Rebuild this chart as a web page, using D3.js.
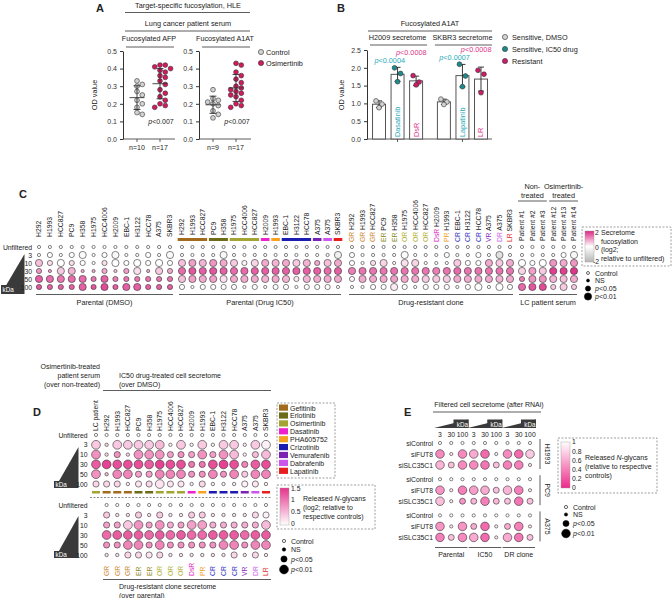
<!DOCTYPE html>
<html><head><meta charset="utf-8">
<script src="https://cdn.jsdelivr.net/npm/d3@7"></script>
<style>
body{margin:0;background:#fff}
svg{display:block;font-family:"Liberation Sans",Arial,Helvetica,sans-serif}
</style></head><body>
<div id="chart"></div>
<script>
// ---------- data ----------
// panel A
var aGroups = ["Control", "Osimertinib"];
var afpControl = [0.33,0.31,0.30,0.27,0.25,0.22,0.20,0.18,0.15,0.14];
var afpOsim = [0.42,0.42,0.41,0.40,0.39,0.38,0.36,0.35,0.33,0.31,0.28,0.26,0.24,0.22,0.20,0.19,0.18];
var a1atControl = [0.28,0.23,0.22,0.21,0.20,0.19,0.16,0.14,0.12];
var a1atOsim = [0.43,0.42,0.38,0.36,0.34,0.32,0.30,0.29,0.28,0.27,0.26,0.25,0.24,0.22,0.20,0.19,0.18];
var aTicks = [0,0.1,0.2,0.3,0.4,0.5];

// panel B
var bGroups = ["H2009 secretome", "SKBR3 secretome"];
var bConds = ["Sensitive, DMSO", "Sensitive, IC50 drug", "Resistant"];
var bDrugs = [["", "Dasatinib", "DsR"], ["", "Lapatinib", "LR"]];
var bH2009 = [[1.07,0.98,0.88],[2.0,1.84,1.61],[1.78,1.6,1.52]];
var bSKBR3 = [[1.12,1.04,0.97],[2.1,1.77,1.47],[1.93,1.82,1.3]];
var bPvals = [["0.0004","0.0008"],["0.0007","0.0008"]];
var bTicks = [0,0.5,1,1.5,2,2.5];

// shared
var kdaRows = ["3","10","30","50","100"];
var drugNames = ["Gefitinib","Erlotinib","Osimertinib","Dasatinib","PHA605752","Crizotinib","Vemurafenib","Dabrafenib","Lapatinib"];
var drugCodes = ["GR","ER","OR","DsR","PR","CR","VR","DR","LR"];
var drugColors = ["#a26a1c","#6b6b18","#a4a432","#ee22cc","#f5a31e","#1c1cb0","#7a22b4","#cc55ee","#e81e1e"];
var codeColors = ["#c8862a","#8a8a22","#b0b030","#e020c0","#f0a020","#2a2ac0","#8a2ac0","#c860e8","#e02828"];

// panel C
var cParLines = ["H292","H1993","HCC827","PC9","H358","H1975","HCC4006","H2009","EBC-1","H3122","HCC78","A375","SKBR3"];
var cDrugLines = ["H292","H1993","HCC827","PC9","H358","H1975","HCC4006","HCC827","H2009","H1993","EBC-1","H3122","HCC78","A375","A375","SKBR3"];
var cDrugOf = ["Gefitinib","Gefitinib","Gefitinib","Erlotinib","Erlotinib","Osimertinib","Osimertinib","Osimertinib","Dasatinib","PHA605752","Crizotinib","Crizotinib","Crizotinib","Vemurafenib","Dabrafenib","Lapatinib"];
var cPatients = ["Patient #1","Patient #2","Patient #3","Patient #12","Patient #13","Patient #14"];
// significance: 0 control, 1 NS, 2 p<0.05, 3 p<0.01
var cParVal = [
 [0,0,0,0,-0.1,0,0,-0.1,0,0,0,0,-0.1],
 [0.6,0.3,0,0.3,0,0,0.3,0,0,0,0,0,0],
 [1.0,0.9,0.5,0.7,0.8,0.8,0.8,0.6,0.9,0.3,0.8,0.5,0.8],
 [1.5,1.4,1.3,1.4,1.4,1.3,1.5,1.2,1.3,1.3,1.3,1.3,1.3],
 [1.6,1.5,1.5,1.5,1.5,1.6,1.7,1.5,1.5,1.5,1.5,1.5,1.5]];
var cParSig = [
 [1,2,1,2,3,1,2,3,1,1,2,1,3],
 [3,2,3,2,2,1,2,3,2,3,2,3,2],
 [2,1,3,3,1,1,2,1,2,3,1,3,2],
 [3,3,3,3,3,2,3,2,2,2,2,2,2],
 [2,2,2,2,3,2,3,2,3,3,2,2,2]];
var cIC50Val = [
 [0,0,0,0,-0.2,0,0,0,0,0,0,0,0,0,0,-0.4],
 [0.6,0.9,0.7,1.0,0.8,0.5,0.1,0.4,0.8,0.7,0.8,0.5,0.7,0.8,0.6,0.8],
 [1.4,1.6,1.5,1.6,1.5,1.4,1.4,1.5,1.5,1.5,1.5,1.5,1.5,1.5,1.4,1.5],
 [0.6,0.9,0.8,0.9,0.3,0.8,0.8,0.8,0.7,0.8,0.7,0.2,0.7,0.8,0.8,0.8],
 [0,0,0,0,0,0,0,0,0,0,0,0,0,0,0,0]];
var cIC50Sig = [
 [1,1,1,1,3,1,1,1,1,1,1,1,1,1,1,3],
 [3,3,3,3,3,3,2,3,3,3,3,3,3,2,3,3],
 [3,3,3,3,3,3,3,3,3,3,3,3,3,3,3,3],
 [3,3,3,3,3,3,3,3,3,3,3,2,3,3,3,3],
 [2,1,2,2,2,2,1,2,1,2,2,1,2,2,2,1]];
var cResVal = [
 [0,0,0,0,0,-0.1,0,0,0,0,0,0,0,0,-0.8,0],
 [0,0,0.3,0.4,0,0.3,0.4,0,0,0,0.5,0,0,0.8,0.5,0.8],
 [1.2,1.3,1.3,1.3,1.3,1.3,1.3,1.3,1.2,1.3,1.4,1.3,1.3,1.3,1.3,1.3],
 [0.1,0.8,0.8,0.8,0.9,0.8,0.8,0.5,0.5,0.5,0.8,0.8,0.8,0.8,0.7,0.8],
 [0,0,0,0,0.2,0,0,0,0,0,0,0,0,0,0,0]];
var cResSig = [
 [2,1,1,1,1,3,1,1,1,2,1,1,2,1,3,1],
 [2,1,2,3,1,3,3,1,1,1,3,2,2,3,3,3],
 [3,3,3,3,3,3,3,3,3,3,3,3,3,3,3,3],
 [2,3,3,3,3,3,3,3,3,3,3,3,3,3,3,3],
 [1,1,2,2,3,2,1,2,2,2,1,2,3,1,3,2]];
var cPatVal = [
 [0,0,0,0,0,-0.2],
 [0,0,0,1.0,0.8,1.0],
 [0.4,0.9,0.5,1.8,1.8,1.9],
 [1.2,1.0,1.0,0.7,0.6,0.8],
 [1.4,1.6,1.7,0.5,0.5,0.5]];
var cPatSig = [
 [1,1,1,1,2,3],
 [3,2,3,3,3,3],
 [3,3,3,3,3,3],
 [2,3,3,3,3,3],
 [3,3,3,2,3,2]];

// panel D
var dTopLines = ["LC patient"].concat(cDrugLines);
var dTopVal = [
 [0.4,0.3,0.4,0.4,0.4,0.4,0.5,0.1,0.4,0.1,0.4,0.1,0.4,0.4,0.1,0.4,0.1],
 [0.8,0.3,0.8,0.3,0.8,0.8,0.8,0.7,0.8,0.7,0.8,0.7,0.8,0.5,0.1,0.5,0.5],
 [1.2,1.4,1.3,1.3,1.3,1.2,1.4,1.3,1.3,1.0,1.0,1.3,1.4,1.3,0.9,1.2,1.3],
 [0.8,0.5,0.9,0.9,0.7,0.7,0.9,0.9,0.9,0.8,0.8,0.9,0.8,0.9,0.4,0.9,0.9],
 [0.3,0.3,0.3,0.1,0.2,0.3,0.2,0.2,0.2,0.1,0.3,0.1,0.1,0.1,0.1,0.2,0.1]];
var dTopSig = [
 [3,1,3,3,3,3,3,1,3,1,3,1,3,3,1,3,3],
 [3,1,2,1,3,3,3,2,2,2,3,2,3,3,1,2,3],
 [3,3,3,3,3,3,3,3,3,2,2,3,3,3,2,3,3],
 [3,1,3,3,2,2,3,3,3,2,2,3,2,3,2,3,3],
 [2,2,2,1,2,2,3,2,2,1,2,1,1,1,2,2,1]];
var dBotVal = [
 [0.4,0.2,0.2,0.4,0.2,0.4,0.2,0.2,0.4,0.4,0.2,0.2,0.2,0.2,0.3,0.1],
 [0.7,0.7,0.4,0.8,0.7,0.8,0.6,0.7,0.7,0.7,0.6,0.6,0.6,0.6,0.6,0.5],
 [1.1,1.2,1.2,1.2,1.1,1.2,1.1,1.2,1.1,1.1,1.2,1.2,1.2,1.1,1.2,1.2],
 [0.8,0.8,0.9,0.9,0.8,0.9,0.8,0.8,0.8,0.8,0.8,0.9,0.9,0.8,0.9,0.9],
 [0.2,0.2,0.3,0.3,0.2,0.3,0.2,0.2,0.2,0.2,0.2,0.2,0.3,0.2,0.3,0.2]];
var dBotSig = [
 [2,1,1,2,1,2,1,1,2,2,1,1,1,1,2,2],
 [2,2,3,3,2,3,2,2,3,3,2,2,2,2,2,3],
 [3,3,3,3,3,3,3,3,3,3,3,3,3,3,3,3],
 [2,2,3,3,2,3,2,2,2,2,2,3,3,2,3,3],
 [1,1,2,2,2,2,1,1,1,1,1,1,2,1,2,1]];

// panel E
var eLines = ["H1993","PC9","A375"];
var eSi = ["siControl","siFUT8","siSLC35C1"];
var eGroups = ["Parental","IC50","DR clone"];
var eKda = ["3","30","100"];
var eFUT8Val = [[0.45,0.9,0.45,0.6,0.3,0.9,0.45,0.3,0.75],[0.5,0.9,0.4,0.55,0.6,0.7,0.65,0.4,0.9],[0.5,0.9,0.5,0.6,0.3,0.9,0.6,0.4,0.9]];
var eFUT8Sig = [[3,1,3,3,3,1,3,3,3],[3,1,3,3,3,2,3,3,1],[3,1,3,2,3,1,2,3,1]];
var eSLCVal = [[0.65,0.7,0.45,0.45,0.35,0.7,0.4,0.4,0.9],[0.7,0.9,0.5,0.65,0.4,0.65,0.7,0.35,0.7],[0.4,0.7,0.45,0.6,0.3,0.9,0.6,0.35,0.7]];
var eSLCSig = [[3,2,3,3,3,2,3,3,1],[3,1,2,2,3,2,2,3,2],[3,2,3,3,3,1,3,3,2]];

// ---------- helpers ----------
var svg = d3.select("#chart").append("svg").attr("width", 672).attr("height", 598);
svg.append("rect").attr("width", 672).attr("height", 598).attr("fill", "#fff");

function label(x, y, s, o) {
  o = o || {};
  var t = svg.append("text").attr("x", x).attr("y", y)
    .attr("font-size", o.size || 7).attr("text-anchor", o.anchor || "start")
    .attr("fill", o.fill || "#222").text(s);
  if (o.bold) t.attr("font-weight", "bold");
  if (o.rot) t.attr("transform", "rotate(" + o.rot + "," + x + "," + y + ")");
  return t;
}
function hline(x1, x2, y, w) {
  svg.append("line").attr("x1", x1).attr("x2", x2).attr("y1", y).attr("y2", y)
    .attr("stroke", "#333").attr("stroke-width", w || 0.8);
}
function pLabel(x, y, p, o) {
  var t = label(x, y, "", o);
  t.append("tspan").attr("font-style", "italic").text("p");
  t.append("tspan").text("<" + p);
}
function styleAxis(ax) {
  ax.attr("font-family", null).attr("font-size", 7);
  ax.selectAll("path,line").attr("stroke", "#333");
  ax.selectAll("text").attr("fill", "#333");
}
function swarm(vals, y, r) {
  var placed = [];
  return vals.map(function(v) {
    var cy = y(v), off = 0;
    for (var k = 0; k < 30; k++) {
      var o = (k % 2 ? 1 : -1) * Math.ceil(k / 2) * r * 1.1;
      if (placed.every(function(p) { return Math.hypot(p[0] - o, p[1] - cy) >= 2 * r * 0.92; })) { off = o; break; }
    }
    placed.push([off, cy]);
    return off;
  });
}
function dotRow(xs, y, vals, sigs, color, radii) {
  svg.append("g").selectAll("circle").data(vals).join("circle")
    .attr("cx", function(d, i) { return xs(i); })
    .attr("cy", y)
    .attr("r", function(d, i) { return radii[sigs[i]]; })
    .attr("fill", function(d, i) { return sigs[i] === 0 ? "#fff" : color(d); })
    .attr("stroke", "#333").attr("stroke-width", 0.6);
}
function dotBlock(xs, ys, vals, sigs, color, radii) {
  var n = vals[0].length;
  dotRow(xs, ys("Unfiltered"), d3.range(n).map(function() { return 0; }), d3.range(n).map(function() { return 0; }), color, radii);
  kdaRows.forEach(function(r, j) { dotRow(xs, ys(r), vals[j], sigs[j], color, radii); });
}
function rowLabels(ys, x) {
  ys.domain().forEach(function(r) { label(x, ys(r) + 2.5, r, {anchor: "end", size: 6.8}); });
}
function colLabels(xs, names, y, codes) {
  names.forEach(function(n, i) {
    var t = svg.append("text").attr("transform", "translate(" + (xs(i) + 2.4) + "," + y + ") rotate(-90)")
      .attr("font-size", 6.8).attr("fill", "#222");
    if (codes) t.append("tspan").attr("fill", codeColors[drugCodes.indexOf(codes[i])]).text(codes[i] + " ");
    t.append("tspan").text(n);
  });
}
function wedge(pts, rx, ry, rw, rh, tx, ty, anchor) {
  svg.append("polygon").attr("points", pts).attr("fill", "#3a3a3a");
  svg.append("rect").attr("x", rx).attr("y", ry).attr("width", rw).attr("height", rh).attr("fill", "#3a3a3a");
  label(tx, ty, "kDa", {fill: "#fff", size: 6.3, anchor: anchor || "start"});
}
function sizeLegend(x, ys, radii, tx) {
  var names = ["Control", "NS", "0.05", "0.01"];
  names.forEach(function(n, i) {
    svg.append("circle").attr("cx", x).attr("cy", ys[i]).attr("r", radii[i])
      .attr("fill", i === 0 ? "#fff" : "#000").attr("stroke", "#000").attr("stroke-width", 0.6);
    if (i < 2) label(tx, ys[i] + 2.5, n, {size: 7});
    else pLabel(tx, ys[i] + 2.5, n, {size: 7});
  });
}
function gradient(id, stops) {
  var g = svg.append("defs").append("linearGradient").attr("id", id)
    .attr("x1", 0).attr("x2", 0).attr("y1", 0).attr("y2", 1);
  stops.forEach(function(s) { g.append("stop").attr("offset", s[0]).attr("stop-color", s[1]); });
}
function dashedBox(x, y, w, h) {
  svg.append("rect").attr("x", x).attr("y", y).attr("width", w).attr("height", h)
    .attr("fill", "none").attr("stroke", "#777").attr("stroke-width", 0.7).attr("stroke-dasharray", "2,1.5");
}

// ---------- panel A ----------
label(96, 12, "A", {bold: true, size: 11});
label(188, 8, "Target-specific fucosylation, HLE", {anchor: "middle", size: 7.3});
hline(125, 250, 12.5);
label(188, 26, "Lung cancer patient serum", {anchor: "middle", size: 7.3});
hline(125, 250, 31);
label(97, 95, "OD value", {anchor: "middle", rot: -90, size: 7.3});

var yA = d3.scaleLinear().domain([0, 0.5]).range([139, 51]);
var aColor = d3.scaleOrdinal().domain(aGroups).range(["#d2d2d2", "#d6195f"]);
[{name: "Fucosylated AFP", left: 123, sets: [afpControl, afpOsim]},
 {name: "Fucosylated A1AT", left: 199, sets: [a1atControl, a1atOsim]}].forEach(function(p) {
  var x = d3.scalePoint().domain(aGroups).range([p.left + 14, p.left + 37]);
  styleAxis(svg.append("g").attr("transform", "translate(" + p.left + ",0)")
    .call(d3.axisLeft(yA).tickValues(aTicks).tickFormat(d3.format(".1f")).tickSize(3).tickSizeOuter(0)));
  hline(p.left, p.left + 52, 139);
  aGroups.forEach(function(gname, gi) {
    var cx = x(gname), vals = p.sets[gi];
    svg.append("line").attr("x1", cx).attr("x2", cx).attr("y1", 139).attr("y2", 142).attr("stroke", "#333").attr("stroke-width", 0.8);
    label(cx, 150, "n=" + vals.length, {anchor: "middle", size: 7});
    var offs = swarm(vals, yA, 2.4);
    svg.append("g").selectAll("circle").data(vals).join("circle")
      .attr("cx", function(d, i) { return cx + offs[i]; })
      .attr("cy", function(d) { return yA(d); })
      .attr("r", 2.4).attr("fill", aColor(gname)).attr("stroke", "#333").attr("stroke-width", 0.6);
    var m = d3.mean(vals), sd = d3.deviation(vals);
    var eb = svg.append("g").attr("stroke", "#333").attr("stroke-width", 0.9);
    eb.append("line").attr("x1", cx - 7.5).attr("x2", cx + 7.5).attr("y1", yA(m)).attr("y2", yA(m));
    eb.append("line").attr("x1", cx).attr("x2", cx).attr("y1", yA(m - sd)).attr("y2", yA(m + sd));
    eb.append("line").attr("x1", cx - 3.5).attr("x2", cx + 3.5).attr("y1", yA(m - sd)).attr("y2", yA(m - sd));
    eb.append("line").attr("x1", cx - 3.5).attr("x2", cx + 3.5).attr("y1", yA(m + sd)).attr("y2", yA(m + sd));
  });
  label(p.left + 26, 41, p.name, {anchor: "middle", size: 7.2});
  hline(p.left + 3, p.left + 51, 47);
  pLabel(p.left + 38, 124, "0.007", {anchor: "middle", size: 7});
});
aGroups.forEach(function(gname, i) {
  svg.append("circle").attr("cx", 261).attr("cy", 52 + i * 11).attr("r", 2.6)
    .attr("fill", aColor(gname)).attr("stroke", "#333").attr("stroke-width", 0.6);
  label(266, 54.5 + i * 11, gname, {size: 7.3});
});

// ---------- panel B ----------
label(337, 12, "B", {bold: true, size: 11});
label(430, 26, "Fucosylated A1AT", {anchor: "middle", size: 7.3});
hline(368, 492, 31);
label(344, 95, "OD value", {anchor: "middle", rot: -90, size: 7.3});
var yB = d3.scaleLinear().domain([0, 2.5]).range([139, 50]);
var x0B = d3.scaleBand().domain(bGroups).range([369, 491]).paddingInner(0.12);
var x1B = d3.scaleBand().domain(bConds).range([0, x0B.bandwidth()]).paddingInner(0.3).paddingOuter(0.19);
var bColor = d3.scaleOrdinal().domain(bConds).range(["#d2d2d2", "#1b8c8c", "#d01a6a"]);
var bTextColor = ["#222", "#2aaab8", "#e0348c"];
styleAxis(svg.append("g").attr("transform", "translate(367,0)")
  .call(d3.axisLeft(yB).tickValues(bTicks).tickFormat(d3.format(".1f")).tickSize(3).tickSizeOuter(0)));
hline(367, 492, 139);
[bH2009, bSKBR3].forEach(function(set, gi) {
  var gx = x0B(bGroups[gi]);
  label(gx + x0B.bandwidth() / 2, 40, bGroups[gi], {anchor: "middle", size: 7.3});
  hline(gx + 1, gx + x0B.bandwidth() + 1, 45);
  svg.append("line").attr("x1", gx + x0B.bandwidth() / 2).attr("x2", gx + x0B.bandwidth() / 2)
    .attr("y1", 139).attr("y2", 142).attr("stroke", "#333").attr("stroke-width", 0.8);
  bConds.forEach(function(c, ci) {
    var vals = set[ci], m = d3.mean(vals), sd = d3.deviation(vals);
    var bx = gx + x1B(c), bw = x1B.bandwidth(), cx = bx + bw / 2;
    svg.append("rect").attr("x", bx).attr("y", yB(m)).attr("width", bw).attr("height", yB(0) - yB(m))
      .attr("fill", "#fff").attr("stroke", "#555").attr("stroke-width", 1);
    var eb = svg.append("g").attr("stroke", "#222").attr("stroke-width", 0.9);
    eb.append("line").attr("x1", cx).attr("x2", cx).attr("y1", yB(m - sd)).attr("y2", yB(m + sd));
    eb.append("line").attr("x1", cx - 3).attr("x2", cx + 3).attr("y1", yB(m - sd)).attr("y2", yB(m - sd));
    eb.append("line").attr("x1", cx - 3).attr("x2", cx + 3).attr("y1", yB(m + sd)).attr("y2", yB(m + sd));
    var offs = [-3, 3, 0];
    svg.append("g").selectAll("circle").data(vals).join("circle")
      .attr("cx", function(d, i) { return cx + offs[i]; })
      .attr("cy", function(d) { return yB(d); })
      .attr("r", 2.4).attr("fill", bColor(c)).attr("stroke", "#333").attr("stroke-width", 0.6);
    if (bDrugs[gi][ci]) label(cx + 2.5, 137, bDrugs[gi][ci], {rot: -90, fill: bTextColor[ci], size: 7.3});
  });
  var icEdge = gx + x1B(bConds[1]) + x1B.bandwidth();
  var rsEdge = gx + x1B(bConds[2]) + x1B.bandwidth();
  pLabel(icEdge + 1, gi ? 60 : 63, bPvals[gi][0], {anchor: "end", fill: "#2aaab8", size: 7.3});
  pLabel(rsEdge + 4, gi ? 52 : 55, bPvals[gi][1], {anchor: "end", fill: "#e0348c", size: 7.3});
});
bConds.forEach(function(c, i) {
  svg.append("circle").attr("cx", 505).attr("cy", 37 + i * 12).attr("r", 2.6)
    .attr("fill", bColor(c)).attr("stroke", "#333").attr("stroke-width", 0.6);
  label(512, 39.5 + i * 12, c, {size: 7.3});
});

// ---------- panel C ----------
label(19, 198, "C", {bold: true, size: 11});
var cY = d3.scalePoint().domain(["Unfiltered"].concat(kdaRows)).range([247, 287]);
var cX1 = d3.scalePoint().domain(d3.range(13)).range([39, 170]);
var cX2 = d3.scalePoint().domain(d3.range(16)).range([182, 338]);
var cX3 = d3.scalePoint().domain(d3.range(16)).range([352, 510]);
var cX4 = d3.scalePoint().domain(d3.range(6)).range([522, 574]);
var cColor = d3.scaleLinear().domain([-2, 0, 2]).range(["#b5b5b5", "#ffffff", "#dc2a85"]);
var cRadii = [1.6, 1.6, 2.6, 3.6];
wedge("1,294 24.5,294 24.5,254", 1, 285, 16, 9, 2.5, 292);
rowLabels(cY, 32);
dotBlock(cX1, cY, cParVal, cParSig, cColor, cRadii);
dotBlock(cX2, cY, cIC50Val, cIC50Sig, cColor, cRadii);
dotBlock(cX3, cY, cResVal, cResSig, cColor, cRadii);
dotBlock(cX4, cY, cPatVal, cPatSig, cColor, cRadii);
colLabels(cX1, cParLines, 237);
colLabels(cX2, cDrugLines, 235);
colLabels(cX3, cDrugLines, 242, cDrugOf.map(function(d) { return drugCodes[drugNames.indexOf(d)]; }));
colLabels(cX4, cPatients, 241);
// drug colour bars over IC50 columns
var runs = [];
cDrugOf.forEach(function(d, i) {
  if (runs.length && runs[runs.length - 1].drug === d) runs[runs.length - 1].end = i;
  else runs.push({drug: d, start: i, end: i});
});
svg.append("g").selectAll("rect").data(runs).join("rect")
  .attr("x", function(r) { return cX2(r.start) - 4.3; })
  .attr("width", function(r) { return cX2(r.end) - cX2(r.start) + 8.6; })
  .attr("y", 238).attr("height", 3)
  .attr("fill", function(r) { return drugColors[drugNames.indexOf(r.drug)]; });
[[cX1, "Parental (DMSO)"], [cX2, "Parental (Drug IC50)"], [cX3, "Drug-resistant clone"], [cX4, "LC patient serum"]].forEach(function(g) {
  var r = g[0].range();
  hline(r[0] - 3, r[1] + 3, 294.5);
  label((r[0] + r[1]) / 2, 305, g[1], {anchor: "middle", size: 7.3});
});
label(cX4(1), 189, "Non-", {anchor: "middle", size: 7.3});
label(cX4(1), 198, "treated", {anchor: "middle", size: 7.3});
hline(cX4(0) - 4, cX4(2) + 4, 201);
label(cX4(4), 189, "Osimertinib-", {anchor: "middle", size: 7.3});
label(cX4(4), 198, "treated", {anchor: "middle", size: 7.3});
hline(cX4(3) - 4, cX4(5) + 4, 201);
// colour legend C
gradient("gC", [[0, "#dc2a85"], [0.5, "#ffffff"], [1, "#b5b5b5"]]);
dashedBox(582, 227, 89, 39);
svg.append("rect").attr("x", 585).attr("y", 231).attr("width", 9).attr("height", 31)
  .attr("fill", "url(#gC)").attr("stroke", "#999").attr("stroke-width", 0.4);
label(595, 235, "2", {size: 6.8});
label(595, 250, "0", {size: 6.8});
label(593, 264, "-2", {size: 6.8});
["Secretome", "fucosylation", "(log2;", "relative to unfiltered)"].forEach(function(s, i) {
  label(601, 235 + i * 8.6, s, {size: 7});
});
sizeLegend(588, [273, 280.5, 288.5, 296.5], [1.5, 1.5, 2.6, 3.6], 595);

// ---------- panel D ----------
label(33, 416, "D", {bold: true, size: 11});
label(100, 369, "Osimertinib-treated", {anchor: "end", size: 7});
label(100, 378, "patient serum", {anchor: "end", size: 7});
label(100, 387, "(over non-treated)", {anchor: "end", size: 7});
label(119, 378, "IC50 drug-treated  cell secretome", {size: 7});
label(119, 387, "(over DMSO)", {size: 7});
hline(103, 271, 390.5);
var dX = d3.scalePoint().domain(d3.range(17)).range([96, 266]);
var dXb = d3.scalePoint().domain(d3.range(16)).range([dX(1), dX(16)]);
var dYt = d3.scalePoint().domain(["Unfiltered"].concat(kdaRows)).range([435, 484]);
var dYb = d3.scalePoint().domain(["Unfiltered"].concat(kdaRows)).range([505, 555]);
var dColor = d3.scaleLinear().domain([0, 1.5]).range(["#ffffff", "#e5338b"]);
var dRadii = [1.6, 1.7, 3.1, 4.4];
wedge("55,488 78.5,488 78.5,447", 54, 481, 19, 7, 55.5, 487);
wedge("55,558 78.5,558 78.5,516", 54, 551, 19, 7, 55.5, 557);
rowLabels(dYt, 87.5);
rowLabels(dYb, 87.5);
dotBlock(dX, dYt, dTopVal, dTopSig, dColor, dRadii);
dotBlock(dXb, dYb, dBotVal, dBotSig, dColor, dRadii);
colLabels(dX, dTopLines, 431);
var dDrugs = ["Osimertinib"].concat(cDrugOf);
svg.append("g").selectAll("rect").data(dDrugs).join("rect")
  .attr("x", function(d, i) { return dX(i) - 4; }).attr("width", 8)
  .attr("y", 491).attr("height", 2.5)
  .attr("fill", function(d) { return drugColors[drugNames.indexOf(d)]; });
svg.append("line").attr("x1", 90).attr("x2", 272).attr("y1", 497.5).attr("y2", 497.5)
  .attr("stroke", "#555").attr("stroke-width", 0.7).attr("stroke-dasharray", "2,1.5");
cDrugOf.forEach(function(d, i) {
  var code = drugCodes[drugNames.indexOf(d)];
  label(dXb(i) + 2.4, 576, code, {rot: -90, fill: codeColors[drugCodes.indexOf(code)], size: 6.8});
});
hline(103, 271, 579.5);
label(119, 589, "Drug-resistant  clone secretome", {size: 7});
label(119, 598, "(over parental)", {size: 7});
// drug legend
dashedBox(277, 403, 58, 75);
drugNames.forEach(function(n, i) {
  svg.append("rect").attr("x", 279).attr("y", 404.5 + i * 7.9).attr("width", 9).attr("height", 6.2).attr("fill", drugColors[i]);
  label(290, 410.5 + i * 7.9, n, {size: 7});
});
// colour legend D
gradient("gD", [[0, "#e5338b"], [1, "#ffffff"]]);
dashedBox(277, 485, 98, 44);
svg.append("rect").attr("x", 280).attr("y", 488).attr("width", 9).attr("height", 37)
  .attr("fill", "url(#gD)").attr("stroke", "#999").attr("stroke-width", 0.4);
[["1.5", 491], ["1", 502], ["0.5", 514], ["0", 526]].forEach(function(t) { label(291, t[1], t[0], {size: 6.8}); });
var gl = label(303, 501, "Released ", {size: 7});
gl.append("tspan").attr("font-style", "italic").text("N");
gl.append("tspan").text("-glycans");
label(303, 510, "(log2; relative to", {size: 7});
label(303, 519, "respective controls)", {size: 7});
sizeLegend(284, [541, 549.5, 559, 569.5], [1.6, 1.7, 3.1, 4.4], 291);

// ---------- panel E ----------
label(404, 416, "E", {bold: true, size: 11});
label(489, 407, "Filtered cell secretome (after RNAi)", {anchor: "middle", size: 7});
hline(433, 541, 412);
var eX = d3.scalePoint().domain(d3.range(9)).range([440, 530]);
var eOuter = d3.scaleBand().domain(eLines).range([438, 543]).paddingInner(0.1);
var eInner = d3.scalePoint().domain(eSi).range([5, 27]);
var eColor = d3.scaleLinear().domain([0, 1]).range(["#ee2a8a", "#ffffff"]);
var eRadii = [1.6, 1.6, 3.0, 4.3];
eGroups.forEach(function(g, gi) {
  var a = eX(gi * 3), b = eX(gi * 3 + 2);
  wedge((a - 6) + ",428 " + (b + 6) + ",428 " + (b + 6) + ",419.5", b - 9, 419.5, 15, 8.5, b + 5.5, 427, "end");
  eKda.forEach(function(k, ki) { label(eX(gi * 3 + ki), 437, k, {anchor: "middle", size: 6.8}); });
  hline(a - 5, b + 5, 547.5);
  label((a + b) / 2, 557, g, {anchor: "middle", size: 7});
});
eLines.forEach(function(line, li) {
  var top = eOuter(line);
  eSi.forEach(function(si, si_i) {
    var y = top + eInner(si);
    label(433, y + 2.5, si, {anchor: "end", size: 6.8});
    if (si_i === 0) dotRow(eX, y, d3.range(9).map(function() { return 1; }), d3.range(9).map(function() { return 0; }), eColor, eRadii);
    else if (si_i === 1) dotRow(eX, y, eFUT8Val[li], eFUT8Sig[li], eColor, eRadii);
    else dotRow(eX, y, eSLCVal[li], eSLCSig[li], eColor, eRadii);
  });
  svg.append("line").attr("x1", 540).attr("x2", 540).attr("y1", top + 1).attr("y2", top + 31)
    .attr("stroke", "#333").attr("stroke-width", 0.8);
  label(545, top + 16, line, {anchor: "middle", rot: 90, size: 7});
});
// colour legend E
gradient("gE", [[0, "#ffffff"], [1, "#ee2a8a"]]);
dashedBox(558, 438, 99, 55);
svg.append("rect").attr("x", 561).attr("y", 442).attr("width", 9).attr("height", 46)
  .attr("fill", "url(#gE)").attr("stroke", "#999").attr("stroke-width", 0.4);
[["1", 444], ["0.8", 453.5], ["0.6", 462.5], ["0.4", 471.5], ["0.2", 481], ["0", 490]].forEach(function(t) {
  label(572, t[1], t[0], {size: 6.8});
});
var ge = label(585, 460, "Released ", {size: 7});
ge.append("tspan").attr("font-style", "italic").text("N");
ge.append("tspan").text("-glycans");
label(585, 469, "(relative to respective", {size: 7});
label(585, 478, "controls)", {size: 7});
sizeLegend(566, [507, 514.5, 523.5, 533.5], [1.6, 1.6, 3.0, 4.3], 573);
</script>
</body></html>
